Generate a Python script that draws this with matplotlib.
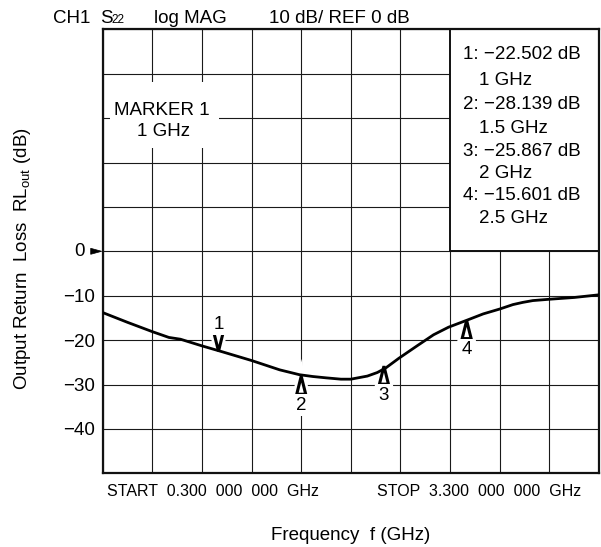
import numpy as np
import matplotlib
matplotlib.use('Agg')
import matplotlib.pyplot as plt
from matplotlib.patches import Polygon, Rectangle
from matplotlib.transforms import Affine2D, ScaledTranslation

# ---------------- data ----------------
freq_ghz = [0.30, 0.45, 0.60, 0.70, 0.77, 0.90, 1.02, 1.20, 1.37, 1.49, 1.57, 1.65,
            1.74, 1.80, 1.90, 1.96, 2.01, 2.09, 2.20, 2.30, 2.39, 2.51, 2.60, 2.70,
            2.78, 2.84, 2.90, 3.00, 3.15, 3.30]
rl_db = [-13.8, -16.0, -18.1, -19.4, -19.8, -21.3, -22.6, -24.6, -26.7, -27.8, -28.2,
         -28.5, -28.8, -28.8, -28.1, -27.3, -26.3, -24.1, -21.3, -18.8, -17.1, -15.4,
         -14.1, -13.0, -12.0, -11.5, -11.1, -10.8, -10.4, -9.8]

marker_ids = [1, 2, 3, 4]
marker_freq = [1.0, 1.5, 2.0, 2.5]
marker_db = [-22.502, -28.139, -25.867, -15.601]
marker_freq_labels = ["1 GHz", "1.5 GHz", "2 GHz", "2.5 GHz"]
marker_up = [False, True, True, True]

ytick_vals = [-40, -30, -20, -10]
ytick_labels = ["\u221240", "\u221230", "\u221220", "\u221210"]

# ---------------- figure ----------------
plt.rcParams['font.family'] = ['Liberation Sans', 'DejaVu Sans']
plt.rcParams['mathtext.fontset'] = 'custom'
plt.rcParams['mathtext.rm'] = 'Liberation Sans'

W, H = 601, 547
fig = plt.figure(figsize=(W / 100, H / 100), dpi=100)
L, R, T, B = 102.7, 599.0, 29.3, 473.3
ax = fig.add_axes([L / W, 1 - B / H, (R - L) / W, (B - T) / H])
ax.set_xlim(0.3, 3.3)
ax.set_ylim(-50, 50)

def X(px):
    return 0.3 + (px - L) / (R - L) * 3.0

def Y(py):
    return 50 - (py - T) / (B - T) * 100.0

ax.set_xticks(np.arange(0.3, 3.31, 0.3))
ax.set_xticklabels([])
ax.set_yticks(np.arange(-50, 51, 10))
ylabs = []
for v in np.arange(-50, 51, 10):
    if v in ytick_vals:
        ylabs.append(ytick_labels[ytick_vals.index(v)])
    else:
        ylabs.append("")
ax.set_yticklabels(ylabs, fontsize=13.5)
ax.tick_params(length=0, pad=5.5)
ax.grid(True, color='#1a1a1a', lw=0.8)
ax.set_axisbelow(True)
for s in ax.spines.values():
    s.set_linewidth(1.6)
    s.set_color('#111111')

# "0" label + reference arrow
ax.annotate("0", xy=(0.3, 0), xytext=(-17.5, 0), textcoords='offset pixels',
            ha='right', va='center', fontsize=13.5, annotation_clip=False)

def poly_px(xd, yd, verts, **kw):
    tr = Affine2D() + ScaledTranslation(xd, yd, ax.transData)
    p = Polygon(verts, closed=True, transform=tr, clip_on=False, **kw)
    ax.add_patch(p)
    return p

poly_px(0.3, 0, [(-12, -3), (-12, 3), (-1, 0)], fc='black', ec='black', lw=0.5, zorder=6)

# marker table box
ax.add_patch(Rectangle((2.4, 0), 0.9, 50, fc='white', ec='#111111', lw=1.4, zorder=1.2))
line_y = [54.3, 80.7, 104.3, 128.3, 151.0, 173.3, 195.0, 218.3]
k = 0
for i, mid in enumerate(marker_ids):
    val = marker_db[i]
    s = f"{mid}: \u2212{abs(val):.3f} dB"
    ax.text(X(462.7), Y(line_y[k]), s, ha='left', va='center', fontsize=13.5, zorder=3)
    ax.text(X(479.3), Y(line_y[k + 1]), marker_freq_labels[i], ha='left', va='center',
            fontsize=13.5, zorder=3)
    k += 2

# MARKER 1 box
ax.add_patch(Rectangle((X(110), Y(148)), X(219) - X(110), Y(82) - Y(148),
                       fc='white', ec='none', zorder=1.2))
ax.text(X(161.5), Y(110), "MARKER 1", ha='center', va='center', fontsize=13.5, zorder=3)
ax.text(X(163.3), Y(131.7), "1 GHz", ha='center', va='center', fontsize=13.5, zorder=3)

# curve
ax.plot(freq_ghz, rl_db, color='black', lw=2.0, zorder=3, solid_capstyle='round',
        solid_joinstyle='round')

# markers
th, tw = 18, 4.5
for i, mid in enumerate(marker_ids):
    xd, yd = marker_freq[i], marker_db[i]
    if marker_up[i]:
        verts = [(0, 0), (-tw, -th), (tw, -th)]
        off = -th - 11
    else:
        verts = [(0, 0), (-tw, th), (tw, th)]
        off = th + 9
    poly_px(xd, yd, verts, fc='white', ec='white', lw=6, zorder=2.9, joinstyle='miter')
    poly_px(xd, yd, verts, fc='white', ec='black', lw=2.2, zorder=4, joinstyle='miter')
    ax.annotate(str(mid), xy=(xd, yd), xytext=(0, off), textcoords='offset pixels',
                ha='center', va='center', fontsize=13.5, zorder=4,
                bbox=dict(boxstyle='square,pad=0.12', fc='white', ec='none'))

# title line
base = 1 - 23.3 / H
fig.text(53 / W, base, "CH1", fontsize=13.5, va='baseline', ha='left')
fig.text(100 / W, base, "S", fontsize=13.5, va='baseline', ha='left')
fig.text(111.7 / W, base, "22", fontsize=8.5, va='baseline', ha='left')
fig.text(154.3 / W, base, "log MAG", fontsize=13.5, va='baseline', ha='left')
fig.text(269.3 / W, base, "10 dB/ REF 0 dB", fontsize=13.5, va='baseline', ha='left')

# start / stop line
fig.text(107.3 / W, 1 - 492 / H, "START  0.300  000  000  GHz", fontsize=11.5,
         va='center', ha='left')
fig.text(376.7 / W, 1 - 492 / H, "STOP  3.300  000  000  GHz", fontsize=11.5,
         va='center', ha='left')

# axis labels
fig.text(351 / W, 1 - 535 / H, "Frequency  f (GHz)", fontsize=13.5, ha='center', va='center')
fig.text(23 / W, 1 - 259 / H, r"Output Return  Loss  RL$_{\mathregular{out}}$ (dB)",
         fontsize=13.5, rotation=90, ha='center', va='center')

fig.savefig('out.png', dpi=100)
